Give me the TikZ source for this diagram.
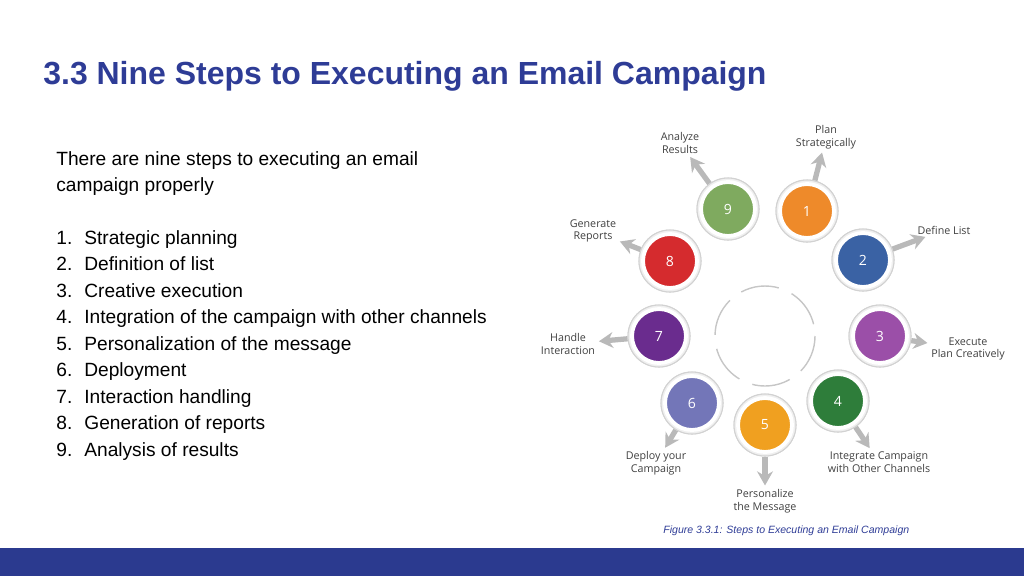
\documentclass[tikz,border=0pt]{standalone}
\usepackage{fontspec}
\setmainfont{Liberation Sans}
\newfontfamily\lblfont{Open Sans}
\usetikzlibrary{arrows.meta}
\definecolor{titleblue}{HTML}{2E3C96}
\definecolor{barblue}{HTML}{2B3A8F}
\definecolor{cA}{HTML}{EE8A2A}
\definecolor{cB}{HTML}{3A62A4}
\definecolor{cC}{HTML}{9B4FA8}
\definecolor{cD}{HTML}{2E7D3A}
\definecolor{cE}{HTML}{F0A020}
\definecolor{cF}{HTML}{7376B8}
\definecolor{cG}{HTML}{6A2C8E}
\definecolor{cH}{HTML}{D52B2E}
\definecolor{cI}{HTML}{7FAA5F}
\tikzset{
  stepdisc/.style={circle,minimum size=1.08cm,inner sep=0pt,draw=white,line width=2.2pt,
    text=white,font=\lblfont\fontsize{8}{8}\selectfont},
  stepring/.style={circle,minimum size=1.24cm,inner sep=0pt,fill=gray!12,draw=gray!35,line width=0.6pt},
  steplbl/.style={align=center,text=black!75,font=\lblfont\fontsize{6.1}{7.2}\selectfont,inner sep=1pt},
  steparrow/.style={-{Stealth[length=8pt,width=9pt]},line width=3pt,draw=gray!55,shorten >=1pt}
}
\begin{document}
\begin{tikzpicture}[x=0.02cm,y=-0.02cm]
  \useasboundingbox (0,0) rectangle (1024,576);
  \fill[barblue] (0,548) rectangle (1024,576);
  \node[anchor=base west,inner sep=0pt,text=titleblue,font=\bfseries\fontsize{18.2}{20}\selectfont] (title) at (43,84) {3.3 Nine Steps to Executing an Email Campaign};
  % left text
  \node[anchor=base west,inner sep=0pt,font=\fontsize{10.9}{12}\selectfont] (intro1) at (56,165) {There are nine steps to executing an email};
  \node[anchor=base west,inner sep=0pt,font=\fontsize{10.9}{12}\selectfont] (intro2) at (56,191) {campaign properly};
  \foreach \n/\t [count=\k from 0] in {1/Strategic planning,2/Definition of list,3/Creative execution,
      4/Integration of the campaign with other channels,5/Personalization of the message,6/Deployment,
      7/Interaction handling,8/Generation of reports,9/Analysis of results}{
    \node[anchor=base west,inner sep=0pt,font=\fontsize{10.9}{12}\selectfont] (num\n) at (56,244+26.5*\k) {\n.};
    \node[anchor=base west,inner sep=0pt,font=\fontsize{10.9}{12}\selectfont] (item\n) at (84,244+26.5*\k) {\t};
  }
  % cycle in the middle
  \draw[gray!45,line width=0.8pt,dash pattern=on 22pt off 8pt] (765,336) circle (50);
  % the nine steps
  \foreach \i/\x/\y/\c/\lx/\ly/\t in {
      1/807/211/cA/826/137/{Plan\\Strategically},
      2/863/260/cB/944/230/{Define List},
      3/880/336/cC/968/349/{Execute\\Plan Creatively},
      4/838/401/cD/879/462/{Integrate Campaign\\with Other Channels},
      5/765/425/cE/765/501/{Personalize\\the Message},
      6/692/403/cF/656/463/{Deploy your\\Campaign},
      7/659/336/cG/568/344/{Handle\\Interaction},
      8/670/261/cH/593/231/{Generate\\Reports},
      9/728/209/cI/680/143/{Analyze\\Results}}{
    \node[stepring] (ring\i) at (\x,\y) {};
    \node[steplbl] (lbl\i) at (\lx,\ly) {\t};
    \draw[steparrow] (ring\i) -- (lbl\i);
    \node[stepring] (ringtop\i) at (\x,\y) {};
    \node[stepdisc,fill=\c] (step\i) at (\x,\y) {\i};
  }
  \node[anchor=base west,inner sep=0pt,text=titleblue,font=\itshape\fontsize{6}{7}\selectfont] (caption) at (663,533) {Figure 3.3.1: Steps to Executing an Email Campaign};
\end{tikzpicture}
\end{document}
